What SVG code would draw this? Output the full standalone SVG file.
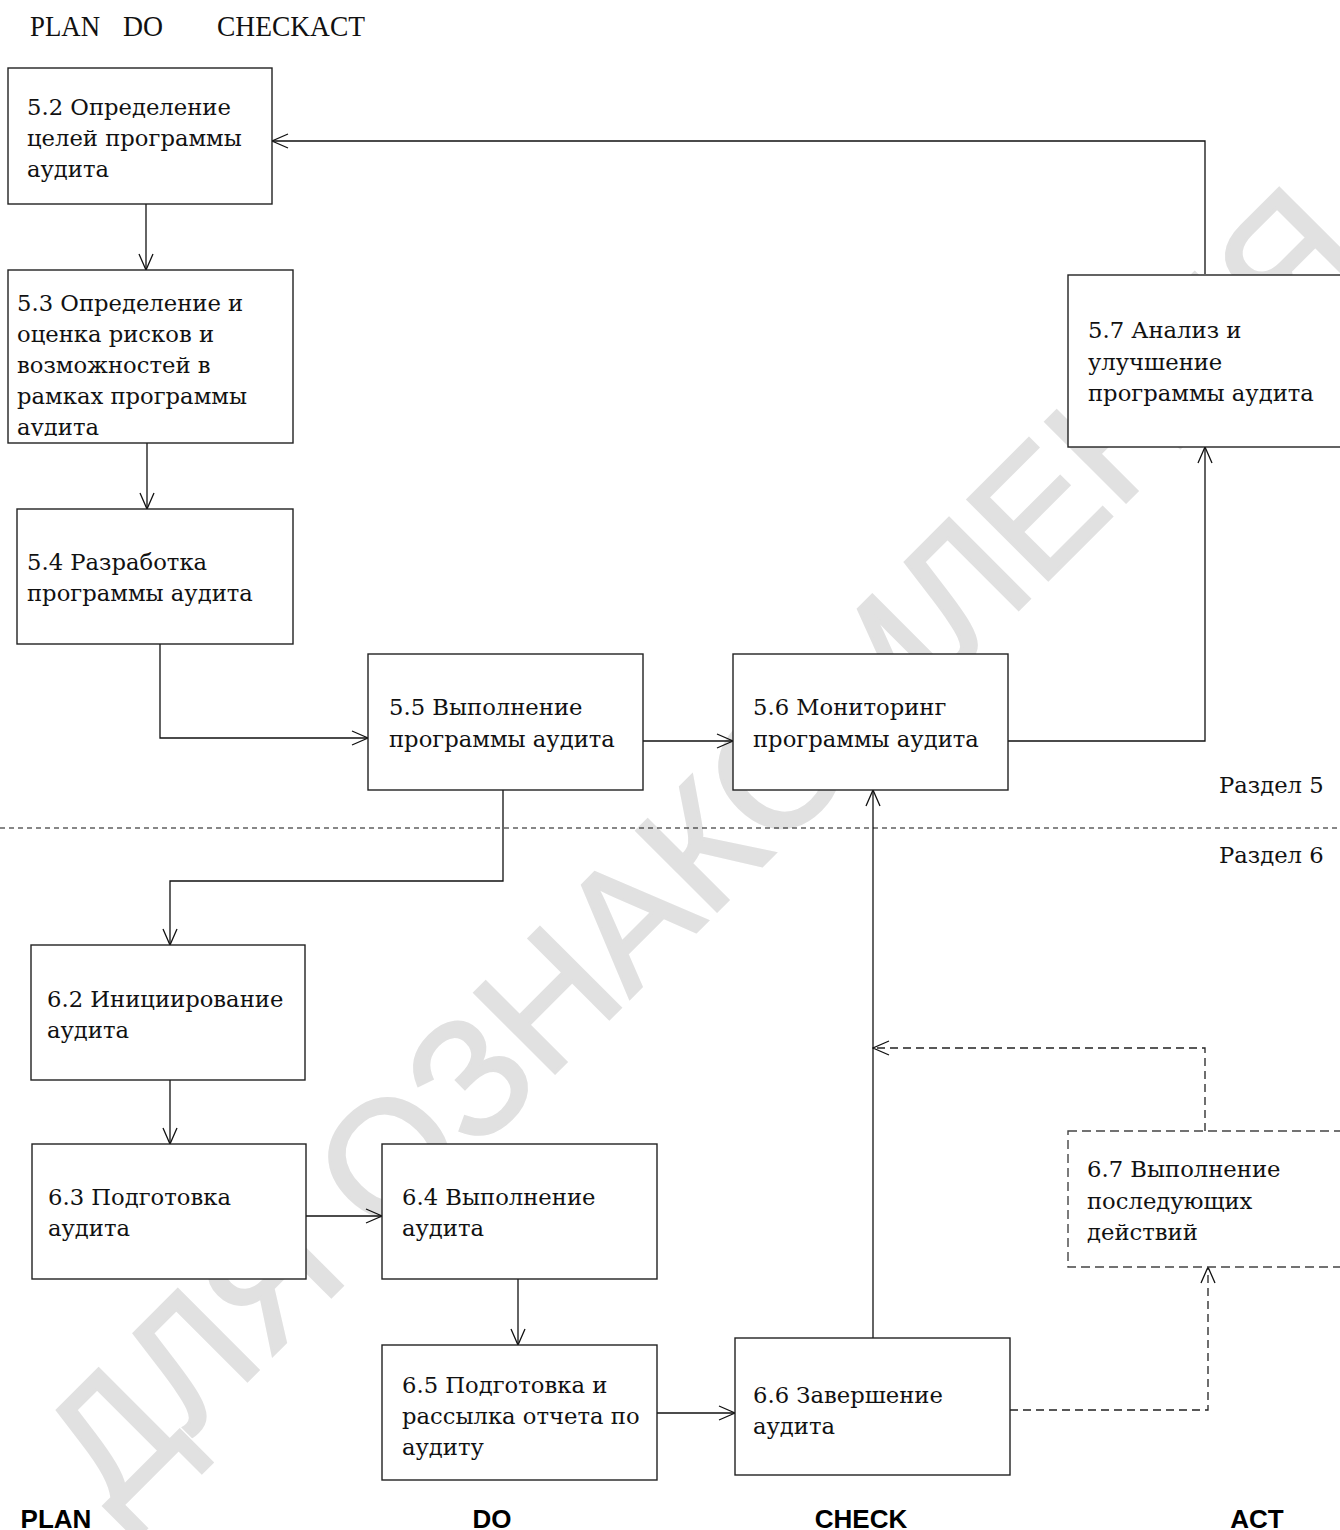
<svg xmlns="http://www.w3.org/2000/svg" width="1340" height="1530" viewBox="0 0 1340 1530">
<style>
.box{fill:#fff;stroke:#222;stroke-width:1.4}
.dbox{fill:#fff;stroke:#444;stroke-width:1.4;stroke-dasharray:9 5}
.t{font-family:"DejaVu Serif","Liberation Serif",serif;font-size:22.7px;fill:#111}
.c{fill:none;stroke:#111;stroke-width:1.3}
.cd{fill:none;stroke:#222;stroke-width:1.3;stroke-dasharray:8 5}
.sep{fill:none;stroke:#111;stroke-width:1.2;stroke-dasharray:5 4}
.hdr{font-family:"Liberation Serif",serif;font-size:30px;fill:#111}
.ft{font-family:"Liberation Sans",Arial,sans-serif;font-weight:bold;font-size:26px;fill:#000;text-anchor:middle}
.wm{font-family:"Liberation Sans",Arial,sans-serif;font-size:165px;fill:#e1e1e1;stroke:#e1e1e1;stroke-width:3}
</style>
<defs>
<marker id="arr" viewBox="0 0 18 16" refX="17" refY="8" markerWidth="18" markerHeight="16" markerUnits="userSpaceOnUse" orient="auto">
<path d="M1,1 L17,8 L1,15" fill="none" stroke="#111" stroke-width="1.3"/>
</marker>
<clipPath id="clip53"><rect x="8" y="270" width="285" height="166"/></clipPath>
</defs>
<rect width="1340" height="1530" fill="#fff"/>
<g id="watermark">
<text class="wm" x="112" y="1516" transform="rotate(-45 112 1516)">ДЛЯ ОЗНАКОМЛЕНИЯ</text>
</g>
<g id="header">
<text class="hdr" x="30" y="36" textLength="70" lengthAdjust="spacingAndGlyphs">PLAN</text>
<text class="hdr" x="123" y="36" textLength="40" lengthAdjust="spacingAndGlyphs">DO</text>
<text class="hdr" x="217" y="36" textLength="148" lengthAdjust="spacingAndGlyphs">CHECKACT</text>
</g>
<g id="separator">
<line class="sep" x1="0" y1="828" x2="1340" y2="828"/>
<text class="t" x="1219" y="793">Раздел 5</text>
<text class="t" x="1219" y="863">Раздел 6</text>
</g>
<g id="connectors">
<path class="c" d="M146,204 V270" marker-end="url(#arr)"/>
<path class="c" d="M147,443 V509" marker-end="url(#arr)"/>
<path class="c" d="M160,644 V738 H368" marker-end="url(#arr)"/>
<path class="c" d="M643,741 H733" marker-end="url(#arr)"/>
<path class="c" d="M1008,741 H1205 V447" marker-end="url(#arr)"/>
<path class="c" d="M1205,274 V141 H272" marker-end="url(#arr)"/>
<path class="c" d="M503,790 V881 H170 V945" marker-end="url(#arr)"/>
<path class="c" d="M170,1080 V1144" marker-end="url(#arr)"/>
<path class="c" d="M306,1216 H382" marker-end="url(#arr)"/>
<path class="c" d="M518,1279 V1345" marker-end="url(#arr)"/>
<path class="c" d="M657,1413 H735" marker-end="url(#arr)"/>
<path class="c" d="M873,1338 V790" marker-end="url(#arr)"/>
<path class="cd" d="M1205,1131 V1048 H873" marker-end="url(#arr)"/>
<path class="cd" d="M1010,1410 H1208 V1267" marker-end="url(#arr)"/>
</g>
<g id="n52">
<rect class="box" x="8" y="68" width="264" height="136"/>
<text class="t"><tspan x="27" y="115">5.2 Определение</tspan><tspan x="27" y="146">целей программы</tspan><tspan x="27" y="177">аудита</tspan></text>
</g>
<g id="n53">
<rect class="box" x="8" y="270" width="285" height="173"/>
<text class="t" clip-path="url(#clip53)"><tspan x="17" y="311">5.3 Определение и</tspan><tspan x="17" y="342">оценка рисков и</tspan><tspan x="17" y="373">возможностей в</tspan><tspan x="17" y="404">рамках программы</tspan><tspan x="17" y="435">аудита</tspan></text>
</g>
<g id="n54">
<rect class="box" x="17" y="509" width="276" height="135"/>
<text class="t"><tspan x="27" y="570">5.4 Разработка</tspan><tspan x="27" y="601">программы аудита</tspan></text>
</g>
<g id="n55">
<rect class="box" x="368" y="654" width="275" height="136"/>
<text class="t"><tspan x="389" y="715">5.5 Выполнение</tspan><tspan x="389" y="747">программы аудита</tspan></text>
</g>
<g id="n56">
<rect class="box" x="733" y="654" width="275" height="136"/>
<text class="t"><tspan x="753" y="715">5.6 Мониторинг</tspan><tspan x="753" y="747">программы аудита</tspan></text>
</g>
<g id="n57">
<rect class="box" x="1068" y="275" width="300" height="172"/>
<text class="t"><tspan x="1088" y="338">5.7 Анализ и</tspan><tspan x="1088" y="370">улучшение</tspan><tspan x="1088" y="401">программы аудита</tspan></text>
</g>
<g id="n62">
<rect class="box" x="31" y="945" width="274" height="135"/>
<text class="t"><tspan x="47" y="1007">6.2 Инициирование</tspan><tspan x="47" y="1038">аудита</tspan></text>
</g>
<g id="n63">
<rect class="box" x="32" y="1144" width="274" height="135"/>
<text class="t"><tspan x="48" y="1205">6.3 Подготовка</tspan><tspan x="48" y="1236">аудита</tspan></text>
</g>
<g id="n64">
<rect class="box" x="382" y="1144" width="275" height="135"/>
<text class="t"><tspan x="402" y="1205">6.4 Выполнение</tspan><tspan x="402" y="1236">аудита</tspan></text>
</g>
<g id="n65">
<rect class="box" x="382" y="1345" width="275" height="135"/>
<text class="t"><tspan x="402" y="1393">6.5 Подготовка и</tspan><tspan x="402" y="1424">рассылка отчета по</tspan><tspan x="402" y="1455">аудиту</tspan></text>
</g>
<g id="n66">
<rect class="box" x="735" y="1338" width="275" height="137"/>
<text class="t"><tspan x="753" y="1403">6.6 Завершение</tspan><tspan x="753" y="1434">аудита</tspan></text>
</g>
<g id="n67">
<rect class="dbox" x="1068" y="1131" width="300" height="136"/>
<text class="t"><tspan x="1087" y="1177">6.7 Выполнение</tspan><tspan x="1087" y="1209">последующих</tspan><tspan x="1087" y="1240">действий</tspan></text>
</g>
<g id="footer">
<text class="ft" x="56" y="1528">PLAN</text>
<text class="ft" x="492" y="1528">DO</text>
<text class="ft" x="861" y="1528">CHECK</text>
<text class="ft" x="1257" y="1528">ACT</text>
</g>
</svg>
